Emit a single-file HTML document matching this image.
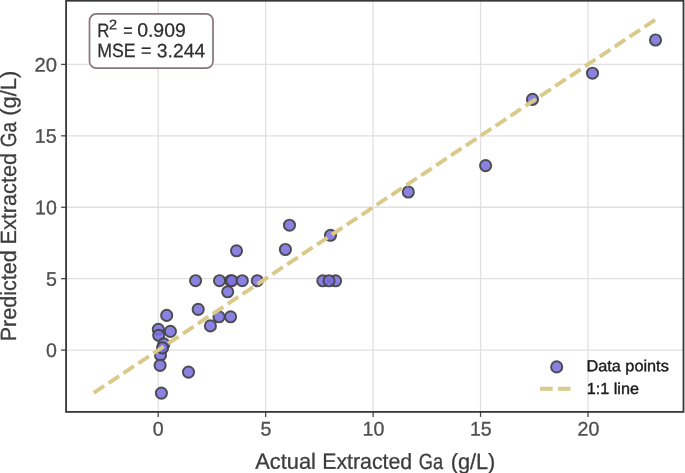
<!DOCTYPE html>
<html lang="en"><head><meta charset="utf-8"><title>Predicted vs Actual Extracted Ga</title>
<style>html,body{margin:0;padding:0;background:#fff;}body{width:685px;height:473px;overflow:hidden;}svg{display:block;}text{font-family:'Liberation Sans', sans-serif;text-rendering:geometricPrecision;}</style>
</head><body>
<svg width="685" height="473" viewBox="0 0 685 473">
<rect x="0" y="0" width="685" height="473" fill="#ffffff"/>
<g stroke="#e0e0e0" stroke-width="1.3" fill="none">
<line x1="158.20" y1="0.75" x2="158.20" y2="411.90"/>
<line x1="66.10" y1="350.10" x2="683.50" y2="350.10"/>
<line x1="265.65" y1="0.75" x2="265.65" y2="411.90"/>
<line x1="66.10" y1="278.68" x2="683.50" y2="278.68"/>
<line x1="373.10" y1="0.75" x2="373.10" y2="411.90"/>
<line x1="66.10" y1="207.25" x2="683.50" y2="207.25"/>
<line x1="480.55" y1="0.75" x2="480.55" y2="411.90"/>
<line x1="66.10" y1="135.83" x2="683.50" y2="135.83"/>
<line x1="588.00" y1="0.75" x2="588.00" y2="411.90"/>
<line x1="66.10" y1="64.40" x2="683.50" y2="64.40"/>
</g>
<g fill="#7b6fdd" fill-opacity="0.88" stroke="#424242" stroke-opacity="0.92" stroke-width="1.9">
<circle cx="166.7" cy="315.4" r="5.6"/>
<circle cx="158.3" cy="329.3" r="5.6"/>
<circle cx="158.7" cy="335.3" r="5.6"/>
<circle cx="170.4" cy="331.4" r="5.6"/>
<circle cx="163.8" cy="343.9" r="5.6"/>
<circle cx="160.5" cy="355.0" r="5.6"/>
<circle cx="162.5" cy="347.9" r="5.6"/>
<circle cx="160.1" cy="365.4" r="5.6"/>
<circle cx="161.4" cy="393.1" r="5.6"/>
<circle cx="188.5" cy="372.1" r="5.6"/>
<circle cx="198.2" cy="309.4" r="5.6"/>
<circle cx="236.5" cy="250.8" r="5.6"/>
<circle cx="195.6" cy="280.7" r="5.6"/>
<circle cx="219.5" cy="280.7" r="5.6"/>
<circle cx="230.7" cy="280.7" r="5.6"/>
<circle cx="231.8" cy="280.7" r="5.6"/>
<circle cx="242.3" cy="280.7" r="5.6"/>
<circle cx="257.3" cy="280.7" r="5.6"/>
<circle cx="227.7" cy="291.8" r="5.6"/>
<circle cx="219.0" cy="316.8" r="5.6"/>
<circle cx="230.6" cy="316.8" r="5.6"/>
<circle cx="210.4" cy="325.9" r="5.6"/>
<circle cx="289.5" cy="225.2" r="5.6"/>
<circle cx="285.4" cy="249.5" r="5.6"/>
<circle cx="330.5" cy="235.3" r="5.6"/>
<circle cx="322.8" cy="280.8" r="5.6"/>
<circle cx="335.6" cy="280.8" r="5.6"/>
<circle cx="329.0" cy="280.8" r="5.6"/>
<circle cx="408.3" cy="192.0" r="5.6"/>
<circle cx="485.6" cy="165.6" r="5.6"/>
<circle cx="532.5" cy="99.4" r="5.6"/>
<circle cx="592.5" cy="73.2" r="5.6"/>
<circle cx="655.5" cy="40.0" r="5.6"/>
</g>
<line x1="93.73" y1="392.96" x2="655.48" y2="19.55" stroke="#d9ca89" stroke-width="3.9" stroke-dasharray="12.6 5.275" fill="none"/>
<g stroke="#484848" stroke-width="1.3">
<line x1="158.20" y1="411.90" x2="158.20" y2="416.90"/>
<line x1="61.10" y1="350.10" x2="66.10" y2="350.10"/>
<line x1="265.65" y1="411.90" x2="265.65" y2="416.90"/>
<line x1="61.10" y1="278.68" x2="66.10" y2="278.68"/>
<line x1="373.10" y1="411.90" x2="373.10" y2="416.90"/>
<line x1="61.10" y1="207.25" x2="66.10" y2="207.25"/>
<line x1="480.55" y1="411.90" x2="480.55" y2="416.90"/>
<line x1="61.10" y1="135.83" x2="66.10" y2="135.83"/>
<line x1="588.00" y1="411.90" x2="588.00" y2="416.90"/>
<line x1="61.10" y1="64.40" x2="66.10" y2="64.40"/>
</g>
<rect x="66.10" y="0.75" width="617.40" height="411.15" fill="none" stroke="#383838" stroke-width="1.8"/>
<text x="152.75" y="435.50" font-size="19.60" fill="#505050" transform="rotate(0.03 152.75 435.50)" stroke="#505050" stroke-width="0.3">0</text>
<text x="45.90" y="357.10" font-size="19.60" fill="#505050" transform="rotate(0.03 45.90 357.10)" stroke="#505050" stroke-width="0.3">0</text>
<text x="260.50" y="435.50" font-size="19.60" fill="#505050" transform="rotate(0.03 260.50 435.50)" stroke="#505050" stroke-width="0.3">5</text>
<text x="45.90" y="285.68" font-size="19.60" fill="#505050" transform="rotate(0.03 45.90 285.68)" stroke="#505050" stroke-width="0.3">5</text>
<text x="362.50" y="435.50" font-size="19.60" fill="#505050" transform="rotate(0.03 362.50 435.50)" stroke="#505050" stroke-width="0.3">10</text>
<text x="35.00" y="214.25" font-size="19.60" fill="#505050" transform="rotate(0.03 35.00 214.25)" stroke="#505050" stroke-width="0.3">10</text>
<text x="469.95" y="435.50" font-size="19.60" fill="#505050" transform="rotate(0.03 469.95 435.50)" stroke="#505050" stroke-width="0.3">15</text>
<text x="34.80" y="142.83" font-size="19.60" fill="#505050" transform="rotate(0.03 34.80 142.83)" stroke="#505050" stroke-width="0.3">15</text>
<text x="577.60" y="435.50" font-size="19.60" fill="#505050" transform="rotate(0.03 577.60 435.50)" stroke="#505050" stroke-width="0.3">20</text>
<text x="34.40" y="71.40" font-size="19.60" fill="#505050" transform="rotate(0.03 34.40 71.40)" textLength="22.50" lengthAdjust="spacingAndGlyphs" stroke="#505050" stroke-width="0.3">20</text>
<text transform="translate(253.30 468.80) rotate(0.03)" y="0" font-size="22.00" fill="#3d3d3d" stroke="#3d3d3d" stroke-width="0.3"><tspan x="1.96" textLength="60.70" lengthAdjust="spacingAndGlyphs">Actual</tspan> <tspan x="68.95" textLength="89.92" lengthAdjust="spacingAndGlyphs">Extracted</tspan> <tspan x="165.48" textLength="24.32" lengthAdjust="spacingAndGlyphs">Ga</tspan> <tspan x="197.35" textLength="44.70" lengthAdjust="spacingAndGlyphs">(g/L)</tspan></text>
<text transform="translate(16.10 339.50) rotate(-90.00)" y="0" font-size="22.00" fill="#3d3d3d" stroke="#3d3d3d" stroke-width="0.3"><tspan x="-1.76" textLength="90.85" lengthAdjust="spacingAndGlyphs">Predicted</tspan> <tspan x="95.02" textLength="91.58" lengthAdjust="spacingAndGlyphs">Extracted</tspan> <tspan x="192.14" textLength="25.36" lengthAdjust="spacingAndGlyphs">Ga</tspan> <tspan x="223.74" textLength="45.12" lengthAdjust="spacingAndGlyphs">(g/L)</tspan></text>
<rect x="89.5" y="13.9" width="123.5" height="54.15" rx="6.8" ry="6.8" fill="#ffffff" stroke="#867575" stroke-width="1.7"/>
<text transform="translate(96.60 36.60) rotate(0.03)" y="0" font-size="19.30" fill="#2e2e2e" stroke="#2e2e2e" stroke-width="0.25"><tspan x="0.62" textLength="12.16" lengthAdjust="spacingAndGlyphs">R</tspan><tspan x="12.37" dy="-7.40" font-size="13.70" textLength="8.06" lengthAdjust="spacingAndGlyphs">2</tspan> <tspan x="26.62" dy="7.40" textLength="9.38" lengthAdjust="spacingAndGlyphs">=</tspan> <tspan x="40.54" textLength="48.68" lengthAdjust="spacingAndGlyphs">0.909</tspan></text>
<text transform="translate(96.60 57.20) rotate(0.03)" y="0" font-size="19.30" fill="#2e2e2e" stroke="#2e2e2e" stroke-width="0.25"><tspan x="0.55" textLength="38.42" lengthAdjust="spacingAndGlyphs">MSE</tspan> <tspan x="44.53" textLength="10.46" lengthAdjust="spacingAndGlyphs">=</tspan> <tspan x="60.16" textLength="48.40" lengthAdjust="spacingAndGlyphs">3.244</tspan></text>
<circle cx="556.7" cy="366.9" r="5.6" fill="#7b6fdd" fill-opacity="0.88" stroke="#424242" stroke-opacity="0.92" stroke-width="1.9"/>
<line x1="540.1" y1="388.8" x2="571.2" y2="388.8" stroke="#d9ca89" stroke-width="3.9" stroke-dasharray="12.6 5.275"/>
<text x="586.40" y="371.20" font-size="15.90" fill="#1c1c1c" transform="rotate(0.03 586.40 371.20)" textLength="82.40" lengthAdjust="spacingAndGlyphs" stroke="#1c1c1c" stroke-width="0.4">Data points</text>
<text x="586.70" y="394.00" font-size="15.90" fill="#1c1c1c" transform="rotate(0.03 586.70 394.00)" textLength="52.30" lengthAdjust="spacingAndGlyphs" stroke="#1c1c1c" stroke-width="0.4">1:1 line</text>
</svg>
</body></html>
